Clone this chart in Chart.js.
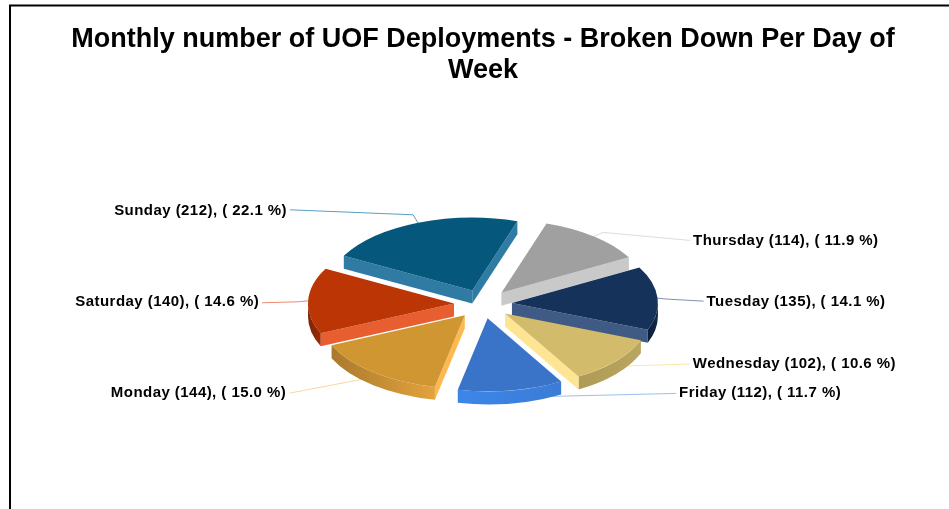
<!DOCTYPE html>
<html><head><meta charset="utf-8">
<style>html,body{margin:0;padding:0;background:#fff}canvas{display:block}</style>
<script src="https://cdn.jsdelivr.net/npm/chart.js@4"></script>
</head><body><canvas id="c" width="949" height="509"></canvas>
<script>
const categories = ["Thursday","Tuesday","Wednesday","Friday","Monday","Saturday","Sunday"];
const counts = [114,135,102,112,144,140,212];
const percents = ["11.9","14.1","10.6","11.7","15.0","14.6","22.1"];
const topColors = ["#a0a0a0","#15325b","#d2bb6a","#3974c8","#cf9632","#bb3505","#05577c"];
const cutColors = ["#c9c9c9","#3f5a84","#fde594","#4a8ae0","#fdb94f","#e75f30","#2f7ba3"];
const rimDark   = ["#8a8a8a","#0c1e38","#ae9a55","#3d86e8","#a97a2c","#7c2404","#03405c"];
const rimLight  = ["#9a9a9a","#122a4c","#bba660","#3b7cd6","#e3a33d","#9a2c04","#04506f"];
const lineColors = ["#dcdcdc","#7f93b5","#fde6a8","#9fc0ee","#fcd7a0","#ee8a70","#5a9fc4"];
const titleLines = ["Monthly number of UOF Deployments - Broken Down Per Day of","Week"];

const squash = 0.5, depth = 13, explode = 29;
const labelFont = 'bold 15px "Liberation Sans", Arial, sans-serif';
// leader route per slice: bend and end, relative to the rim anchor; side of the text
const leaders = [
  {bend:[9,-4],  end:[96,4],    side:1, yOff:0},
  {bend:[10,1],  end:[46,3],    side:1, yOff:1},
  {bend:[10,0],  end:[74,-2],   side:1, yOff:0},
  {bend:[40,1],  end:[165,-2],  side:1, yOff:-1},
  {bend:[-16,3], end:[-84,16],  side:-1, yOff:0},
  {bend:[-10,1], end:[-46,2],   side:-1, yOff:-1},
  {bend:[-5,-8], end:[-128,-13],side:-1, yOff:1}
];

const pie3d = {
  id:'pie3d',
  beforeDraw(chart){
    const ctx = chart.ctx;
    ctx.save();
    ctx.fillStyle = '#fff';
    ctx.fillRect(0,0,chart.width,chart.height);
    ctx.strokeStyle = '#000';
    ctx.lineWidth = 2;
    ctx.beginPath();
    ctx.moveTo(chart.width,5.5); ctx.lineTo(10,5.5); ctx.lineTo(10,chart.height);
    ctx.stroke();
    ctx.restore();
  },
  beforeDatasetsDraw(chart){
    const ctx = chart.ctx;
    const arcs = chart.getDatasetMeta(0).data;
    // leaders and labels first, so the slices cover the start of each leader
    arcs.forEach((a,i)=>{
      const mid=(a.startAngle+a.endAngle)/2, d=explode+a.outerRadius;
      const ax=a.x+Math.cos(mid)*d, ay=a.y+Math.sin(mid)*d*squash+(Math.sin(mid)>0.6?5:0);
      const l=leaders[i];
      ctx.save();
      ctx.strokeStyle=lineColors[i]; ctx.lineWidth=1;
      ctx.beginPath();
      ctx.moveTo(ax,ay); ctx.lineTo(ax+l.bend[0],ay+l.bend[1]); ctx.lineTo(ax+l.end[0],ay+l.end[1]);
      ctx.stroke();
      ctx.fillStyle='#000'; ctx.font=labelFont; ctx.textBaseline='middle';
      ctx.letterSpacing='0.45px';
      ctx.textAlign=l.side>0?'left':'right';
      ctx.fillText(`${categories[i]} (${counts[i]}), ( ${percents[i]} %)`, ax+l.end[0]+l.side*3, ay+l.end[1]+l.yOff);
      ctx.restore();
    });
    const order = arcs.map((a,i)=>i).sort((p,q)=>{
      const yOf = i => Math.sin((arcs[i].startAngle+arcs[i].endAngle)/2);
      return yOf(p)-yOf(q);
    });
    const dz = depth/squash;
    order.forEach(i=>{
      const a = arcs[i];
      const mid = (a.startAngle+a.endAngle)/2;
      const R = a.outerRadius;
      const ex = Math.cos(mid)*explode, ey = Math.sin(mid)*explode;
      ctx.save();
      ctx.translate(a.x,a.y); ctx.scale(1,squash); ctx.translate(-a.x,-a.y);
      ctx.translate(ex,ey);
      const s = Math.max(a.startAngle,0), e = Math.min(a.endAngle,Math.PI);
      if(e>s){
        const x0=a.x+Math.cos(s)*R, x1=a.x+Math.cos(e)*R;
        const g=ctx.createLinearGradient(Math.min(x0,x1),0,Math.max(x0,x1),0);
        g.addColorStop(0,rimDark[i]); g.addColorStop(1,rimLight[i]);
        ctx.fillStyle=g;
        ctx.beginPath();
        ctx.arc(a.x,a.y,R,s,e,false);
        ctx.arc(a.x,a.y+dz,R,e,s,true);
        ctx.closePath(); ctx.fill();
      }
      ctx.fillStyle=cutColors[i];
      const face = ang=>{
        const rx=a.x+Math.cos(ang)*R, ry=a.y+Math.sin(ang)*R;
        ctx.beginPath();
        ctx.moveTo(a.x,a.y); ctx.lineTo(rx,ry); ctx.lineTo(rx,ry+dz); ctx.lineTo(a.x,a.y+dz);
        ctx.closePath(); ctx.fill();
      };
      if(Math.cos(a.startAngle)<0) face(a.startAngle);
      if(Math.cos(a.endAngle)>0) face(a.endAngle);
      a.draw(ctx);
      ctx.restore();
    });
    return false;
  }
};

new Chart(document.getElementById('c'),{
  type:'pie',
  data:{labels:categories,datasets:[{data:counts,backgroundColor:topColors,borderWidth:0}]},
  options:{
    responsive:false,animation:false,rotation:18,radius:146,
    layout:{padding:{left:17,right:0,top:0,bottom:0}},
    events:[],
    plugins:{
      legend:{display:false},tooltip:{enabled:false},
      title:{display:true,text:titleLines,color:'#000',
        font:{family:'"Liberation Sans", Arial, sans-serif',size:27,weight:'bold',lineHeight:1.15},
        padding:{top:24,bottom:13}}
    }
  },
  plugins:[pie3d]
});
</script></body></html>
